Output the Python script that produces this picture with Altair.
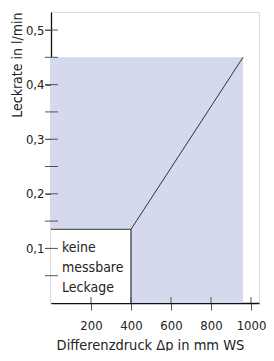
import altair as alt
import pandas as pd

# data
area_x = [0, 960]
area_y = [0, 0.45]
box_x = [0, 400]
box_y = [0, 0.135]
line_x = [0, 400, 960]
line_y = [0.135, 0.135, 0.45]
edge_x = [400, 400]
edge_y = [0, 0.135]
note_lines = ["keine", "messbare", "Leckage"]
x_ticks = [200, 400, 600, 800, 1000]
y_major = [0.1, 0.2, 0.3, 0.4, 0.5]
y_minor = [0.05, 0.15, 0.25, 0.35, 0.45]

FONT = "DejaVu Sans Condensed, Liberation Sans"
W, H = 208, 291

xs = alt.Scale(domain=[0, 1040], nice=False, zero=False)
ys = alt.Scale(domain=[0, 0.533], nice=False, zero=False)

xax = alt.Axis(values=x_ticks, title="Differenzdruck Δp in mm WS", grid=False, format="d",
               tickSize=7, tickColor="#555", domainColor="#111", domainWidth=1.3,
               labelFont=FONT, labelFontSize=13, labelColor="#222", labelPadding=9,
               titleFont=FONT, titleFontSize=14.5, titleFontWeight="normal", titleColor="#222",
               titlePadding=6, titleX=99, labelOverlap=False)
yax = alt.Axis(values=y_major, title="Leckrate in l/min", grid=False, format=".1f",
               labelExpr="replace(datum.label, '.', ',')",
               tickSize=6, tickColor="#555", domainColor="#111", domainWidth=1.3,
               labelFont=FONT, labelFontSize=13, labelColor="#222", labelPadding=1,
               titleFont=FONT, titleFontSize=14, titleFontWeight="normal", titleColor="#222",
               titleAnchor="end", titlePadding=1, labelOverlap=False)

area_df = pd.DataFrame({"x": [area_x[0]], "x2": [area_x[1]], "y": [area_y[0]], "y2": [area_y[1]]})
box_df = pd.DataFrame({"x": [box_x[0]], "x2": [box_x[1]], "y": [box_y[0]], "y2": [box_y[1]]})

shade = alt.Chart(area_df).mark_rect(color="#d4d9ed").encode(
    x=alt.X("x:Q", scale=xs, axis=xax), x2="x2", y=alt.Y("y:Q", scale=ys, axis=yax), y2="y2")
box = alt.Chart(box_df).mark_rect(color="white").encode(
    x=alt.X("x:Q", scale=xs, axis=xax), x2="x2", y=alt.Y("y:Q", scale=ys, axis=yax), y2="y2")

line_df = pd.DataFrame({"x": line_x, "y": line_y, "o": list(range(len(line_x)))})
line = alt.Chart(line_df).mark_line(color="#333", strokeWidth=1).encode(
    x=alt.X("x:Q", scale=xs, axis=xax), y=alt.Y("y:Q", scale=ys, axis=yax), order="o:O")
edge_df = pd.DataFrame({"x": edge_x, "y": edge_y, "o": [0, 1]})
edge = alt.Chart(edge_df).mark_line(color="#333", strokeWidth=1.2).encode(
    x=alt.X("x:Q", scale=xs, axis=xax), y=alt.Y("y:Q", scale=ys, axis=yax), order="o:O")

note_df = pd.DataFrame({"x": [55], "y": [0.1], "t": ["\n".join(note_lines)]})
note = alt.Chart(note_df).mark_text(align="left", baseline="middle", font=FONT, fontSize=14,
                                    lineHeight=20, lineBreak="\n", color="#222").encode(
    x=alt.X("x:Q", scale=xs, axis=xax), y=alt.Y("y:Q", scale=ys, axis=yax), text="t:N")

ytick_df = pd.DataFrame({"y": y_major + y_minor})
ytick_in = alt.Chart(ytick_df).mark_rule(color="#555", strokeWidth=1).encode(
    y=alt.Y("y:Q", scale=ys, axis=yax), x=alt.value(-6), x2=alt.value(7))
xtick_df = pd.DataFrame({"x": x_ticks})
xtick_in = alt.Chart(xtick_df).mark_rule(color="#555", strokeWidth=1).encode(
    x=alt.X("x:Q", scale=xs, axis=xax), y=alt.value(H - 6), y2=alt.value(H))

chart = alt.layer(shade, box, line, edge, note, ytick_in, xtick_in).properties(
    width=W, height=H, autosize="none",
    padding={"left": 43, "top": 4, "right": 7, "bottom": 48},
).configure_view(stroke=None).configure(background="white")

chart.save("out.html", embed_options={"renderer": "svg", "actions": False})
